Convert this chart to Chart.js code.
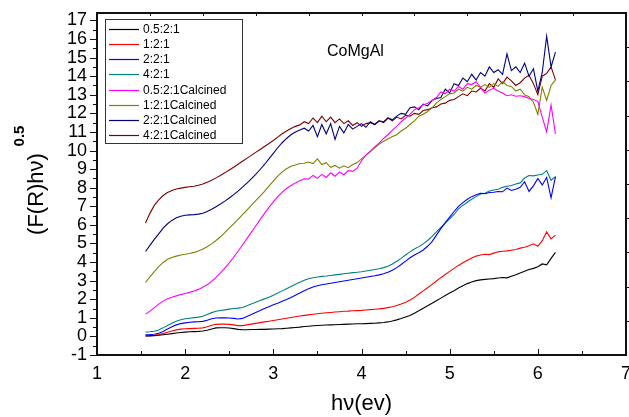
<!DOCTYPE html>
<html>
<head>
<meta charset="utf-8">
<script src="https://cdn.jsdelivr.net/npm/chart.js@4"></script>
<style>
  body { margin: 0; background: #fff; }
</style>
</head>
<body>
<canvas id="myChart" width="629" height="417"></canvas>
<script>
// photon energy grid (eV)
var hv = [
  1.55,1.60,1.65,1.70,1.75,1.80,1.85,1.90,1.95,2.00,
  2.05,2.10,2.15,2.20,2.25,2.30,2.35,2.40,2.45,2.50,
  2.55,2.60,2.65,2.70,2.75,2.80,2.85,2.90,2.95,3.00,
  3.05,3.10,3.15,3.20,3.25,3.30,3.35,3.40,3.45,3.50,
  3.55,3.60,3.65,3.70,3.75,3.80,3.85,3.90,3.95,4.00,
  4.05,4.10,4.15,4.20,4.25,4.30,4.35,4.40,4.45,4.50,
  4.55,4.60,4.65,4.70,4.75,4.80,4.85,4.90,4.95,5.00,
  5.05,5.10,5.15,5.20,5.25,5.30,5.35,5.40,5.45,5.50,
  5.55,5.60,5.65,5.70,5.75,5.80,5.85,5.90,5.95,6.00,
  6.05,6.10,6.15,6.20
];

var names = ['0.5:2:1', '1:2:1', '2:2:1', '4:2:1',
  '0.5:2:1Calcined', '1:2:1Calcined', '2:2:1Calcined', '4:2:1Calcined'];

var colors = ['#000000', '#ff0000', '#0000ff', '#008080',
  '#ff00ff', '#808000', '#000080', '#800000'];

// (F(R)hv)^0.5 for each sample
var r05 = [
  0.02,0.03,0.04,0.06,0.09,0.12,0.15,0.18,0.21,0.23,
  0.25,0.26,0.27,0.29,0.33,0.40,0.46,0.47,0.47,0.45,
  0.42,0.38,0.36,0.36,0.37,0.37,0.38,0.38,0.39,0.40,
  0.41,0.42,0.44,0.46,0.48,0.50,0.53,0.55,0.57,0.59,
  0.60,0.61,0.62,0.63,0.64,0.65,0.66,0.67,0.68,0.68,
  0.69,0.70,0.71,0.73,0.75,0.78,0.83,0.89,0.96,1.04,
  1.13,1.25,1.38,1.52,1.65,1.78,1.92,2.06,2.20,2.33,
  2.46,2.60,2.72,2.84,2.93,3.00,3.04,3.07,3.09,3.11,
  3.14,3.17,3.15,3.24,3.32,3.41,3.50,3.60,3.66,3.75,
  3.90,3.85,4.20,4.52
];
var r1 = [
  0.03,0.04,0.06,0.10,0.15,0.22,0.29,0.35,0.39,0.41,
  0.42,0.43,0.44,0.46,0.52,0.60,0.65,0.66,0.66,0.65,
  0.62,0.58,0.58,0.62,0.66,0.70,0.74,0.78,0.82,0.86,
  0.90,0.94,0.98,1.02,1.06,1.10,1.13,1.16,1.19,1.22,
  1.25,1.27,1.29,1.31,1.33,1.35,1.36,1.38,1.39,1.40,
  1.42,1.44,1.46,1.48,1.51,1.55,1.60,1.66,1.74,1.84,
  1.96,2.10,2.28,2.45,2.62,2.80,2.98,3.16,3.33,3.50,
  3.66,3.82,3.96,4.10,4.22,4.32,4.38,4.42,4.40,4.48,
  4.55,4.58,4.60,4.64,4.68,4.75,4.80,4.88,4.98,4.85,
  5.15,5.62,5.25,5.45
];
var r2 = [
  0.09,0.10,0.12,0.17,0.27,0.40,0.52,0.62,0.69,0.73,
  0.76,0.78,0.79,0.81,0.87,0.95,0.99,1.00,1.00,0.99,
  0.97,0.94,0.97,1.07,1.18,1.29,1.39,1.50,1.60,1.70,
  1.79,1.89,1.99,2.10,2.22,2.34,2.46,2.57,2.66,2.73,
  2.78,2.82,2.86,2.90,2.94,2.98,3.02,3.06,3.10,3.14,
  3.18,3.22,3.26,3.31,3.37,3.45,3.56,3.70,3.87,4.05,
  4.23,4.38,4.50,4.65,4.85,5.10,5.45,5.80,6.12,6.42,
  6.72,7.00,7.20,7.38,7.52,7.62,7.70,7.68,7.74,7.76,
  7.80,7.78,7.98,7.85,7.92,8.02,8.32,7.80,8.10,8.50,
  8.15,8.55,7.45,8.60
];
var r4 = [
  0.24,0.25,0.28,0.35,0.46,0.59,0.71,0.82,0.90,0.95,
  0.98,1.01,1.04,1.08,1.18,1.28,1.35,1.39,1.43,1.47,
  1.50,1.52,1.56,1.65,1.75,1.84,1.93,2.02,2.11,2.22,
  2.33,2.45,2.57,2.69,2.81,2.92,3.02,3.10,3.16,3.20,
  3.23,3.25,3.28,3.31,3.34,3.37,3.40,3.43,3.45,3.48,
  3.52,3.56,3.60,3.64,3.70,3.78,3.90,4.04,4.20,4.38,
  4.55,4.70,4.83,4.98,5.16,5.38,5.62,5.86,6.10,6.32,
  6.56,6.86,7.05,7.22,7.38,7.52,7.66,7.70,7.82,7.88,
  7.92,8.02,8.08,8.12,8.20,8.26,8.52,8.66,8.64,8.68,
  8.72,8.92,8.40,8.60
];
var c05 = [
  1.20,1.36,1.55,1.74,1.90,2.03,2.11,2.18,2.25,2.31,
  2.37,2.44,2.53,2.64,2.78,2.96,3.18,3.42,3.68,3.96,
  4.26,4.58,4.92,5.26,5.60,5.94,6.28,6.62,6.94,7.24,
  7.52,7.76,7.96,8.12,8.26,8.38,8.48,8.46,8.66,8.50,
  8.72,8.55,8.80,8.62,8.85,8.70,8.92,8.88,9.05,9.45,
  9.75,9.95,10.20,10.40,10.65,10.85,11.10,11.30,11.55,11.75,
  11.95,12.20,12.30,12.45,12.55,12.70,12.85,13.15,13.05,13.30,
  13.20,13.45,13.30,13.60,13.55,13.70,13.40,13.10,13.25,13.35,
  13.20,13.10,12.95,13.00,12.92,12.95,12.90,12.80,12.75,12.65,
  11.80,11.00,12.45,10.90
];
var c1 = [
  2.90,3.20,3.48,3.75,3.98,4.15,4.25,4.32,4.38,4.42,
  4.46,4.52,4.60,4.70,4.82,4.98,5.16,5.36,5.58,5.82,
  6.06,6.30,6.55,6.80,7.05,7.30,7.55,7.80,8.08,8.35,
  8.62,8.85,9.02,9.15,9.22,9.30,9.32,9.38,9.30,9.55,
  9.25,9.35,9.10,9.20,9.05,9.18,9.08,9.25,9.35,9.55,
  9.75,9.95,10.15,10.35,10.50,10.62,10.75,10.85,11.05,11.20,
  11.40,11.60,11.85,11.95,12.10,12.30,12.55,12.75,12.90,13.05,
  13.10,13.30,13.20,13.40,13.30,13.50,13.40,13.55,13.40,13.60,
  13.45,13.70,13.50,13.45,13.20,13.30,13.00,12.90,12.60,11.95,
  13.40,12.70,13.50,13.80
];
var c2 = [
  4.57,4.90,5.22,5.52,5.82,6.06,6.24,6.38,6.47,6.52,
  6.54,6.55,6.58,6.63,6.72,6.84,6.98,7.12,7.28,7.45,
  7.63,7.82,8.03,8.25,8.48,8.72,8.98,9.25,9.55,9.85,
  10.15,10.42,10.65,10.85,11.00,11.10,11.20,11.05,11.35,10.75,
  11.40,10.90,11.45,10.60,11.30,10.95,11.40,11.15,11.30,11.45,
  11.25,11.55,11.40,11.60,11.50,11.75,11.65,11.85,12.00,11.95,
  12.30,12.35,12.20,12.50,12.40,12.70,12.80,12.85,13.30,13.10,
  13.60,13.50,13.90,13.70,14.10,13.80,14.20,14.00,14.50,14.20,
  14.35,14.10,15.20,14.30,14.50,14.20,14.70,14.00,14.40,13.20,
  14.20,16.15,14.50,15.30
];
var c4 = [
  6.10,6.62,7.05,7.35,7.58,7.74,7.85,7.93,7.98,8.02,
  8.05,8.08,8.13,8.20,8.29,8.40,8.53,8.66,8.80,8.95,
  9.10,9.26,9.42,9.58,9.74,9.90,10.06,10.22,10.38,10.54,
  10.72,10.90,11.05,11.18,11.30,11.38,11.55,11.45,11.75,11.50,
  11.85,11.55,11.80,11.50,11.70,11.45,11.60,11.35,11.50,11.30,
  11.45,11.50,11.40,11.60,11.55,11.75,11.60,11.80,11.70,11.90,
  11.85,12.00,11.95,12.15,12.20,12.30,12.35,12.50,12.55,12.70,
  12.75,12.90,13.05,12.95,13.20,13.15,13.35,13.20,13.60,13.40,
  13.85,13.60,13.95,13.75,13.50,13.65,13.90,14.05,13.60,13.00,
  14.00,14.15,14.50,13.80
];

var series = [r05, r1, r2, r4, c05, c1, c2, c4];

var xTicks = [1, 2, 3, 4, 5, 6, 7];
var yTicks = [-1, 0, 1, 2, 3, 4, 5, 6, 7, 8, 9, 10, 11, 12, 13, 14, 15, 16, 17];

var FONT = '"Liberation Sans", Arial, sans-serif';

var datasets = series.map(function (vals, i) {
  return {
    label: names[i],
    data: vals.map(function (v, k) { return { x: hv[k], y: v }; }),
    borderColor: colors[i],
    backgroundColor: colors[i],
    borderWidth: 1.1,
    pointRadius: 0,
    tension: 0
  };
});

// frame box plus the tick marks on all four sides
var frameTicks = {
  id: 'frameTicks',
  afterDatasetsDraw: function (chart) {
    var c = chart.ctx, a = chart.chartArea;
    var xs = chart.scales.x, ys = chart.scales.y;
    c.save();
    c.strokeStyle = '#111';
    c.lineWidth = 1;
    c.beginPath();
    // left: outward, major at integers and minor at halves
    for (var v = -1; v <= 17; v += 0.5) {
      var py = Math.round(ys.getPixelForValue(v)) + 0.5;
      var len = (v % 1 === 0) ? 7 : 4;
      c.moveTo(a.left, py); c.lineTo(a.left - len, py);
    }
    // bottom: inward
    for (var u = 1; u <= 7; u += 0.5) {
      var px = Math.round(xs.getPixelForValue(u)) + 0.5;
      var l2 = (u % 1 === 0) ? 6 : 4;
      c.moveTo(px, a.bottom); c.lineTo(px, a.bottom - l2);
    }
    // top and right: ten even divisions
    for (var k = 1; k < 10; k++) {
      var tx = Math.round(xs.getPixelForValue(1 + 0.6 * k)) + 0.5;
      c.moveTo(tx, a.top); c.lineTo(tx, a.top + 3);
      var ty = Math.round(ys.getPixelForValue(ys.min + (ys.max - ys.min) * k / 10)) + 0.5;
      c.moveTo(a.right, ty); c.lineTo(a.right + 3, ty);
    }
    c.stroke();
    c.lineWidth = 2;
    c.strokeRect(a.left, a.top, a.right - a.left, a.bottom - a.top);
    c.restore();
  },
  afterDraw: function (chart) {
    var c = chart.ctx;
    c.save();
    c.fillStyle = '#000';

    // sample name
    c.font = '16px ' + FONT;
    c.textAlign = 'left';
    c.textBaseline = 'middle';
    c.fillText('CoMgAl', 327, 52);

    // legend box
    c.strokeStyle = '#333';
    c.lineWidth = 1;
    c.strokeRect(105.5, 19.5, 137, 124);
    c.font = '12px ' + FONT;
    chart.data.datasets.forEach(function (ds, i) {
      var y = Math.round(29 + i * 15.15) + 0.5;
      c.strokeStyle = ds.borderColor;
      c.lineWidth = 1.2;
      c.beginPath();
      c.moveTo(109, y); c.lineTo(139, y);
      c.stroke();
      c.fillStyle = '#000';
      c.fillText(ds.label, 143, y + 0.5);
    });

    // y axis title with bold superscript
    c.translate(37, 194);
    c.rotate(-Math.PI / 2);
    c.textAlign = 'center';
    c.textBaseline = 'middle';
    c.font = '22px ' + FONT;
    c.fillText('(F(R)hν)', 0, 0);
    c.font = 'bold 15px ' + FONT;
    c.fillText('0.5', 58, -17);
    c.restore();
  }
};

const ctx = document.getElementById('myChart');
var chart = new Chart(ctx, {
  type: 'line',
  data: { datasets: datasets },
  options: {
    responsive: false,
    devicePixelRatio: 1,
    animation: false,
    layout: { padding: { top: 13, right: 3, left: 0, bottom: 0 } },
    plugins: {
      legend: { display: false },
      tooltip: { enabled: false }
    },
    scales: {
      x: {
        type: 'linear',
        min: 1, max: 7,
        grid: { display: false, drawTicks: false },
        border: { display: false },
        afterBuildTicks: function (s) { s.ticks = xTicks.map(function (v) { return { value: v }; }); },
        afterFit: function (s) { s.height = 62; s.paddingLeft = 0; s.paddingRight = 0; },
        ticks: { color: '#000', padding: 8, maxRotation: 0, autoSkip: false, font: { family: FONT, size: 18 } },
        title: {
          display: true, text: 'hν(ev)', color: '#000',
          padding: { top: 0, bottom: 0 },
          font: { family: FONT, size: 22 }
        }
      },
      y: {
        min: -1, max: 17.4,
        grid: { display: false, drawTicks: false },
        border: { display: false },
        afterBuildTicks: function (s) { s.ticks = yTicks.map(function (v) { return { value: v }; }); },
        afterFit: function (s) { s.width = 97; s.paddingTop = 0; s.paddingBottom = 0; },
        ticks: { color: '#000', padding: 10, autoSkip: false, font: { family: FONT, size: 18 } }
      }
    }
  },
  plugins: [frameTicks]
});
</script>
</body>
</html>
